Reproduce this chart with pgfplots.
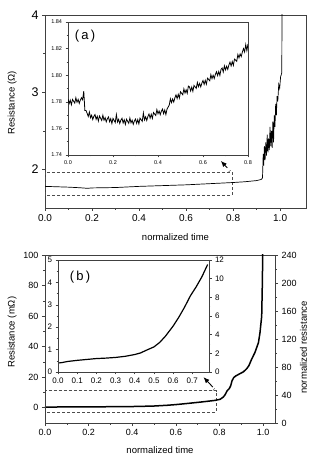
\documentclass[border=0pt]{standalone}
\usepackage{pgfplots}
\pgfplotsset{compat=1.18}
\usepackage{fontspec}
\setmainfont{Liberation Sans}
\setsansfont{Liberation Sans}
\usetikzlibrary{arrows.meta}

\pgfplotsset{
  base/.style={
    scale only axis,
    axis line style={black!75, line width=0.5pt},
    tick align=outside,
    xtick pos=left, ytick pos=left,
    major tick length=3pt, minor tick length=1.6pt,
    every tick/.append style={black!75, line width=0.5pt},
    /pgf/number format/assume math mode=true,
    axis background/.style={fill=white},
  },
  rightaxis/.style={
    scale only axis,
    axis line style={black!75, line width=0.5pt},
    tick align=outside,
    hide x axis,
    ytick pos=right, yticklabel pos=right,
    every tick/.append style={black!75, line width=0.5pt},
    /pgf/number format/assume math mode=true,
  },
  onedec/.style={xticklabel style={/pgf/number format/fixed, /pgf/number format/fixed zerofill, /pgf/number format/precision=1}},
}

% inset (a): resistance over the first 80 % of the lifetime
\pgfplotstableread{
x R
0.000 1.7820
0.005 1.7786
0.010 1.7812
0.015 1.7778
0.020 1.7818
0.025 1.7804
0.030 1.7790
0.035 1.7831
0.040 1.7797
0.045 1.7818
0.050 1.7788
0.055 1.7814
0.060 1.7830
0.065 1.7815
0.070 1.7880
0.075 1.7735
0.080 1.7735
0.085 1.7713
0.090 1.7690
0.095 1.7723
0.100 1.7680
0.105 1.7699
0.110 1.7667
0.115 1.7691
0.120 1.7704
0.125 1.7668
0.130 1.7691
0.135 1.7655
0.140 1.7693
0.145 1.7677
0.150 1.7660
0.155 1.7699
0.160 1.7662
0.165 1.7681
0.170 1.7649
0.175 1.7673
0.180 1.7686
0.185 1.7650
0.190 1.7673
0.195 1.7637
0.200 1.7675
0.205 1.7660
0.210 1.7644
0.215 1.7704
0.220 1.7648
0.225 1.7668
0.230 1.7637
0.235 1.7662
0.240 1.7676
0.245 1.7641
0.250 1.7665
0.255 1.7630
0.260 1.7669
0.265 1.7654
0.270 1.7638
0.275 1.7678
0.280 1.7642
0.285 1.7662
0.290 1.7631
0.295 1.7656
0.300 1.7670
0.305 1.7638
0.310 1.7666
0.315 1.7634
0.320 1.7677
0.325 1.7665
0.330 1.7653
0.335 1.7716
0.340 1.7664
0.345 1.7687
0.350 1.7660
0.355 1.7689
0.360 1.7708
0.365 1.7677
0.370 1.7706
0.375 1.7675
0.380 1.7719
0.385 1.7708
0.390 1.7697
0.395 1.7741
0.400 1.7710
0.405 1.7731
0.410 1.7703
0.415 1.7729
0.420 1.7745
0.425 1.7711
0.430 1.7738
0.435 1.7704
0.440 1.7745
0.445 1.7760
0.450 1.7775
0.455 1.7822
0.460 1.7794
0.465 1.7821
0.470 1.7798
0.475 1.7830
0.480 1.7852
0.485 1.7824
0.490 1.7856
0.495 1.7828
0.500 1.7875
0.505 1.7864
0.510 1.7853
0.515 1.7897
0.520 1.7866
0.525 1.7890
0.530 1.7864
0.535 1.7918
0.540 1.7912
0.545 1.7881
0.550 1.7910
0.555 1.7879
0.560 1.7923
0.565 1.7912
0.570 1.7901
0.575 1.7945
0.580 1.7914
0.585 1.7938
0.590 1.7912
0.595 1.7941
0.600 1.7960
0.605 1.7931
0.610 1.7961
0.615 1.7932
0.620 1.7977
0.625 1.7968
0.630 1.7958
0.635 1.8004
0.640 1.7974
0.645 1.7999
0.650 1.7975
0.655 1.8006
0.660 1.8026
0.665 1.7997
0.670 1.8027
0.675 1.7998
0.680 1.8043
0.685 1.8054
0.690 1.8024
0.695 1.8070
0.700 1.8040
0.705 1.8067
0.710 1.8044
0.715 1.8076
0.720 1.8098
0.725 1.8070
0.730 1.8102
0.735 1.8074
0.740 1.8121
0.745 1.8113
0.750 1.8105
0.755 1.8155
0.760 1.8130
0.765 1.8160
0.770 1.8140
0.775 1.8175
0.780 1.8200
0.785 1.8175
0.790 1.8230
0.795 1.8185
0.800 1.8235
}\insetA

% panel (a): whole lifetime
\pgfplotstableread{
x R
0.000 1.780
0.050 1.775
0.100 1.770
0.150 1.762
0.180 1.755
0.200 1.760
0.300 1.765
0.400 1.780
0.500 1.790
0.600 1.800
0.700 1.815
0.800 1.830
0.850 1.840
0.900 1.855
0.920 1.870
0.925 1.890
0.928 2.200
0.930 2.050
0.933 2.300
0.936 2.120
0.939 2.350
0.942 2.180
0.945 2.450
0.948 2.220
0.951 2.400
0.954 2.250
0.957 2.550
0.960 2.300
0.963 2.500
0.966 2.280
0.969 2.620
0.972 2.350
0.975 2.700
0.978 2.550
0.981 2.850
0.984 2.700
0.987 2.950
0.990 2.880
0.994 3.100
0.998 3.050
1.002 3.200
1.007 3.250
1.008 4.100
}\mainA

% panel (b): resistance in mOhm
\pgfplotstableread{
x R
0.00 0.40
0.02 0.42
0.05 0.47
0.10 0.52
0.15 0.56
0.20 0.60
0.25 0.62
0.30 0.65
0.35 0.70
0.40 0.78
0.43 0.85
0.46 0.97
0.50 1.12
0.53 1.32
0.56 1.60
0.60 2.05
0.63 2.45
0.66 2.90
0.69 3.40
0.72 3.80
0.75 4.25
0.78 4.80
}\insetB

\pgfplotstableread{
x R
0.00 0.40
0.05 0.47
0.10 0.52
0.20 0.60
0.30 0.65
0.40 0.78
0.46 0.97
0.50 1.12
0.56 1.60
0.60 2.05
0.66 2.90
0.72 3.80
0.78 4.80
0.803 5.5
0.818 7.0
0.826 8.5
0.835 11.0
0.845 12.5
0.852 14.5
0.858 17.7
0.866 19.8
0.875 20.8
0.890 22.0
0.910 23.5
0.925 25.5
0.935 27.5
0.948 31.8
0.963 36.2
0.979 42.6
0.986 49.0
0.994 60.0
0.997 82.0
0.999 105.0
}\mainB

\begin{document}
\begin{tikzpicture}
\path[use as bounding box] (0pt,0pt) rectangle (311pt,454pt);

%---------------- panel (a) ----------------
\begin{axis}[base, onedec,
  at={(45pt,246pt)}, anchor=south west, width=261pt, height=193pt,
  xmin=0, xmax=1.11, ymin=1.5, ymax=4,
  xtick={0,0.2,...,1.0}, minor x tick num=1,
  ytick={2,3,4}, minor y tick num=1,
  xticklabel style={font=\fontsize{10}{12}\selectfont},
  yticklabel style={font=\fontsize{12.5}{14}\selectfont},
  xlabel={normalized time},
  ylabel={Resistance (Ω)},
  xlabel style={font=\fontsize{9.5}{11}\selectfont, at={(axis description cs:0.5,-0.15)}, anchor=center},
  ylabel style={font=\fontsize{9.5}{11}\selectfont, at={(axis description cs:-0.126,0.544)}, anchor=center},
]
\draw[black!70, densely dashed, line width=0.45pt] (axis cs:0,1.665) rectangle (axis cs:0.795,1.965);
\draw[black!70, densely dashed, line width=0.45pt] (axis cs:0.78,1.965) -- (axis cs:0.79,1.99);
\addplot[black, line width=0.7pt] table[x=x, y=R] {\mainA};
\draw[-{Latex[length=6pt,width=5pt]}, line width=0.9pt] (axis cs:0.775,2.02) -- (axis cs:0.748,2.11);
\end{axis}

\begin{axis}[base, onedec,
  at={(68pt,299pt)}, anchor=south west, width=180pt, height=133pt,
  xmin=0, xmax=0.8, ymin=1.74, ymax=1.84,
  xtick={0,0.2,...,0.8}, minor x tick num=1,
  ytick={1.74,1.76,...,1.84}, minor y tick num=1,
  major tick length=2.5pt, minor tick length=1.3pt,
  xticklabel style={font=\fontsize{5.5}{6}\selectfont},
  yticklabel style={font=\fontsize{5.5}{6}\selectfont, /pgf/number format/fixed, /pgf/number format/fixed zerofill, /pgf/number format/precision=2},
]
\addplot[black, line width=0.8pt] table[x=x, y=R] {\insetA};
\node[font=\fontsize{13}{14}\selectfont] at (axis cs:0.076,1.829) {(\,a\,)};
\end{axis}

%---------------- panel (b) ----------------
\begin{axis}[base, onedec,
  at={(45pt,31pt)}, anchor=south west, width=230pt, height=168pt,
  xmin=0, xmax=1.055, ymin=-10, ymax=100,
  xtick={0,0.2,...,1.0}, minor x tick num=1,
  ytick={0,20,...,100}, minor y tick num=1,
  ticklabel style={font=\fontsize{9}{10}\selectfont},
  xlabel={normalized time},
  ylabel={Resistance (mΩ)},
  xlabel style={font=\fontsize{9.5}{11}\selectfont, at={(axis description cs:0.5,-0.16)}, anchor=center},
  ylabel style={font=\fontsize{9.5}{11}\selectfont, at={(axis description cs:-0.143,0.54)}, anchor=center},
]
\draw[black!70, densely dashed, line width=0.45pt] (axis cs:0,-2.8) rectangle (axis cs:0.785,11.2);
\draw[black!70, densely dashed, line width=0.45pt] (axis cs:0.77,11.2) -- (axis cs:0.78,13);
\addplot[black, line width=1.5pt] table[x=x, y=R] {\mainB};
\draw[-{Latex[length=6pt,width=5pt]}, line width=0.9pt] (axis cs:0.77,13.5) -- (axis cs:0.727,20);
\end{axis}

\begin{axis}[rightaxis,
  at={(45pt,31pt)}, anchor=south west, width=230pt, height=168pt,
  xmin=0, xmax=1.055, ymin=0, ymax=240,
  ytick={0,40,...,240}, minor y tick num=1,
  major tick length=3pt, minor tick length=1.6pt,
  ticklabel style={font=\fontsize{9}{10}\selectfont},
  ylabel={normalized resistance},
  ylabel style={font=\fontsize{9.5}{11}\selectfont, at={(axis description cs:1.124,0.45)}, anchor=center},
]
\end{axis}

\begin{axis}[base, onedec,
  at={(58pt,82pt)}, anchor=south west, width=151pt, height=112pt,
  xmin=0, xmax=0.787, ymin=0, ymax=5,
  xtick={0,0.1,...,0.7},
  ytick={0,1,...,5}, minor y tick num=1,
  major tick length=2.5pt, minor tick length=1.3pt,
  ticklabel style={font=\fontsize{8}{9}\selectfont},
]
\addplot[black, line width=1.2pt] table[x=x, y=R] {\insetB};
\node[font=\fontsize{13}{14}\selectfont] at (axis cs:0.115,4.24) {(\,b\,)};
\end{axis}

\begin{axis}[rightaxis,
  at={(58pt,82pt)}, anchor=south west, width=151pt, height=112pt,
  xmin=0, xmax=0.787, ymin=0, ymax=12,
  ytick={0,2,...,12}, minor y tick num=1,
  major tick length=2.5pt, minor tick length=1.3pt,
  ticklabel style={font=\fontsize{8}{9}\selectfont},
]
\end{axis}
\end{tikzpicture}
\end{document}
